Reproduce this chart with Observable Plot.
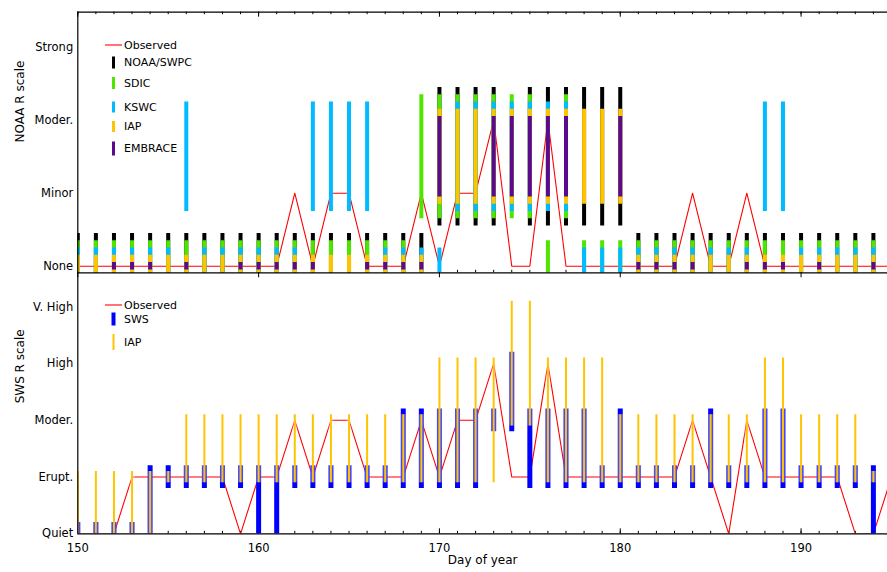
<!DOCTYPE html>
<html><head><meta charset="utf-8">
<script src="https://cdn.jsdelivr.net/npm/d3@7"></script>
<script src="https://cdn.jsdelivr.net/npm/@observablehq/plot@0.6"></script>
<style>
html,body{margin:0;padding:0;background:#fff;overflow:hidden}
#chart{position:relative;width:887px;height:572px;font-family:"DejaVu Sans",sans-serif}
#chart svg{position:absolute;left:0;top:0}
</style></head><body><div id="chart"></div>
<script>
// ---------- DATA ----------
const days = [150,151,152,153,154,155,156,157,158,159,
              160,161,162,163,164,165,166,167,168,169,
              170,171,172,173,174,175,176,177,178,179,
              180,181,182,183,184,185,186,187,188,189,
              190,191,192,193,194];
const obsDays = [...days, 195];
const noaaLabels = ["None","Minor","Moder.","Strong"];
const swsLabels = ["Quiet","Erupt.","Moder.","High","V. High"];
const xTickValues = [150,160,170,180,190];

// observed levels
const obsNoaa = [0,0,0,0,0,0,0,0,0,0, 0,0,1,0,1,1,0,0,0,1, 0,1,1,2,0,0,2,0,0,0, 0,0,0,0,1,0,0,1,0,0, 0,0,0,0,0,0];
const obsSws  = [0,0,0,1,1,1,1,1,1,0, 1,1,2,1,2,2,1,1,1,2, 1,2,2,3,1,1,3,1,1,1, 1,1,1,1,2,1,0,2,1,1, 1,1,1,0,0,1];

// forecast ranges ("lo-hi", single level, or "" = no forecast)
const fcNoaa = ["0","0","0","0","0","0","0","0","0","0",
                "0","0","0","0","0","0","0","0","0","0",
                "1-2","1-2","1-2","1-2","","1-2","1-2","1-2","1-2","1-2",
                "1-2","0","0","0","0","0","0","0","0","0",
                "0","0","0","0","0"];
const fcSdic = ["0","0","0","0","0","0","0","0","0","0",
                "0","0","0","0","0","0","0","0","0","1-2",
                "1-2","1-2","1-2","1-2","1-2","1-2","0","1-2","0","0",
                "0","0","0","0","0","0","0","0","0","0",
                "0","0","0","0","0"];
const fcKswc = ["0","0","0","0","0","0","1-2","0","0","0",
                "0","0","0","1-2","1-2","1-2","1-2","0","0","0",
                "0","1-2","1-2","1-2","1-2","1-2","1-2","1-2","0","0",
                "0","0","0","0","0","0","0","0","1-2","1-2",
                "0","0","0","0","0"];
const fcIap  = ["0","0","0","0","0","0","0","0","0","0",
                "0","0","0","0","0","0","0","0","0","0",
                "1-2","1-2","1-2","1-2","1-2","1-2","1-2","1-2","1-2","1-2",
                "1-2","0","0","0","0","0","0","0","0","0",
                "0","0","0","0","0"];
const fcEmbrace = ["","","0","0","0","","0","","","0",
                   "0","0","0","0","","","0","0","0","0",
                   "1-2","","","1-2","1-2","1-2","1-2","1-2","","",
                   "1-2","0","0","0","0","","","0","0","0",
                   "","0","","","0"];
// SWS panel
const fcSws = ["0","0","0","0","0-1","1","1","1","1","1",
               "0-1","0-1","1","1","1","1","1","1","1-2","1-2",
               "1-2","1-2","1-2","2","2-3","1-2","1-2","1-2","1-2","1",
               "1-2","1","1","1","1","1-2","1","1","1-2","1-2",
               "1","1","1","1","0-1"];
const fcIapSws = ["0-1","0-1","0-1","0-1","0-1","1","1-2","1-2","1-2","1-2",
                  "1-2","1-2","1-2","1-2","1-2","1-2","1-2","1-2","1-2","1-2",
                  "1-3","1-3","1-3","1-3","2-4","2-4","1-3","1-3","1-3","1-3",
                  "1-2","1-2","1-2","1-2","1-2","1-2","1-2","1-2","1-3","1-3",
                  "1-2","1-2","1-2","1-2","1"];

// ---------- helpers ----------
function ranges(arr){
  return days.map((d,i)=>({day:d, s:arr[i]})).filter(r=>r.s!=="").map(r=>{
    const p = r.s.split("-").map(Number);
    return {day:r.day, lo:p[0], hi:p[p.length-1]};
  });
}
const W = 887, H = 572;
const xLeft = 77.3;
const xDomain = [150, 194.78];
const topY0 = 11.7, topY1 = 272.3, botY1 = 533.3;
const topDom = [-0.09, 3.48], botDom = [0, 4.6];
const font = '"DejaVu Sans", sans-serif';

const COL = {obs:"#ff0000", noaa:"#000000", sdic:"#4ee600", kswc:"#00bbff", iap:"#ffc400", embrace:"#5a0a8c", sws:"#0000ff"};
const models = [
  {data: fcNoaa, color: COL.noaa, half: 0.45},
  {data: fcSdic, color: COL.sdic, half: 0.35},
  {data: fcKswc, color: COL.kswc, half: 0.25},
  {data: fcIap, color: COL.iap, half: 0.15},
  {data: fcEmbrace, color: COL.embrace, half: 0.05}
];
const minorDays = days;
function edgeTicks(panelH, where, len, vals){
  return where === "top"
    ? Plot.ruleX(vals, {stroke:"#000", strokeWidth:1, insetBottom: panelH - len})
    : Plot.ruleX(vals, {stroke:"#000", strokeWidth:1, insetTop: panelH - len});
}

// ---------- TOP PANEL ----------
const topH = topY1 - topY0;
const topPlot = Plot.plot({
  width: W, height: H,
  marginLeft: xLeft, marginRight: 0, marginTop: topY0, marginBottom: H - topY1,
  x: {domain: xDomain, axis: null},
  y: {domain: topDom, axis: null},
  style: {background: "transparent", fontFamily: font, fontSize: "11.5px", color: "#000", overflow: "visible"},
  marks: [
    Plot.axisY({ticks: [0,1,2,3], tickFormat: i => noaaLabels[i], tickSize: 0, tickPadding: 4.6, fontSize: 11.5, label: null}),
    Plot.text(["NOAA R scale"], {frameAnchor: "left", rotate: -90, dx: -58, fontSize: 12, fill: "#000"}),
    edgeTicks(topH, "top", 2.5, minorDays),
    edgeTicks(topH, "top", 5, xTickValues),
    edgeTicks(topH, "bottom", 2.5, minorDays),
    Plot.line(obsDays.map((d,i)=>({day:d, v:obsNoaa[i]})), {x:"day", y:"v", stroke: COL.obs, strokeWidth: 1.1, clip: true}),
    ...models.map(m => Plot.ruleX(ranges(m.data), {
      x: "day", y1: d => d.lo - m.half, y2: d => d.hi + m.half,
      stroke: m.color, strokeWidth: 4, clip: true
    })),
    Plot.ruleY([topDom[1]], {stroke:"#000", strokeWidth: 1.2}),
    Plot.ruleX([150], {stroke:"#000", strokeWidth: 1.2})
  ]
});

// ---------- BOTTOM PANEL ----------
const botH = botY1 - topY1;
const botPlot = Plot.plot({
  width: W, height: H,
  marginLeft: xLeft, marginRight: 0, marginTop: topY1, marginBottom: H - botY1,
  x: {domain: xDomain},
  y: {domain: botDom, axis: null},
  style: {background: "transparent", fontFamily: font, fontSize: "11.5px", color: "#000", overflow: "visible"},
  marks: [
    Plot.axisY({ticks: [0,1,2,3,4], tickFormat: i => swsLabels[i], tickSize: 0, tickPadding: 4.6, fontSize: 11.5, label: null}),
    Plot.axisX({ticks: xTickValues, tickFormat: d3.format("d"), tickSize: 0, tickPadding: 10, fontSize: 11.5, label: null}),
    Plot.text(["SWS R scale"], {frameAnchor: "left", rotate: -90, dx: -58, fontSize: 12, fill: "#000"}),
    Plot.text(["Day of year"], {frameAnchor: "bottom", dy: 30, fontSize: 12, fill: "#000"}),
    edgeTicks(botH, "top", 5, xTickValues),
    edgeTicks(botH, "bottom", 2.5, minorDays),
    edgeTicks(botH, "bottom", 5, xTickValues),
    Plot.line(obsDays.map((d,i)=>({day:d, v:obsSws[i]})), {x:"day", y:"v", stroke: COL.obs, strokeWidth: 1.1, clip: true}),
    Plot.ruleX(ranges(fcSws), {x:"day", y1: d => d.lo - 0.2, y2: d => d.hi + 0.2, stroke: COL.sws, strokeWidth: 5, clip: true}),
    Plot.ruleX(ranges(fcIapSws), {x:"day", y1: d => d.lo - 0.1, y2: d => d.hi + 0.1, stroke: "#ffffff", strokeOpacity: 0.28, strokeWidth: 5, clip: true}),
    Plot.ruleX(ranges(fcIapSws), {x:"day", y1: d => d.lo - 0.1, y2: d => d.hi + 0.1, stroke: COL.iap, strokeWidth: 2, clip: true}),
    Plot.ruleY([botDom[1]], {stroke:"#000", strokeWidth: 1.2}),
    Plot.ruleY([botDom[0]], {stroke:"#000", strokeWidth: 1.2}),
    Plot.ruleX([150], {stroke:"#000", strokeWidth: 1.2})
  ]
});

const chart = document.getElementById("chart");
chart.appendChild(topPlot);
chart.appendChild(botPlot);

// ---------- LEGENDS ----------
const ov = d3.create("svg").attr("width", W).attr("height", H)
  .style("font-family", font).style("font-size", "11px").style("background", "transparent");
const legTop = [
  {label: "Observed", kind: "line", color: COL.obs, y: 45},
  {label: "NOAA/SWPC", color: COL.noaa, y: 62.5, h: 12, w: 3},
  {label: "SDIC", color: COL.sdic, y: 83, h: 12, w: 3},
  {label: "KSWC", color: COL.kswc, y: 107, h: 11, w: 3},
  {label: "IAP", color: COL.iap, y: 126.5, h: 11, w: 3},
  {label: "EMBRACE", color: COL.embrace, y: 148.5, h: 14, w: 3}
];
const legBot = [
  {label: "Observed", kind: "line", color: COL.obs, y: 305},
  {label: "SWS", color: COL.sws, y: 319, h: 13, w: 4},
  {label: "IAP", color: COL.iap, y: 342, h: 16, w: 2}
];
for (const it of [...legTop, ...legBot]) {
  if (it.kind === "line") {
    ov.append("line").attr("x1", 105).attr("x2", 122).attr("y1", it.y).attr("y2", it.y)
      .attr("stroke", it.color).attr("stroke-width", 1.1);
  } else {
    ov.append("rect").attr("x", 113.5 - it.w/2).attr("y", it.y - it.h/2).attr("width", it.w).attr("height", it.h)
      .attr("fill", it.color);
  }
  ov.append("text").attr("x", 124).attr("y", it.y).attr("dy", "0.35em").attr("fill", "#000").text(it.label);
}
chart.appendChild(ov.node());
</script>
</body></html>
